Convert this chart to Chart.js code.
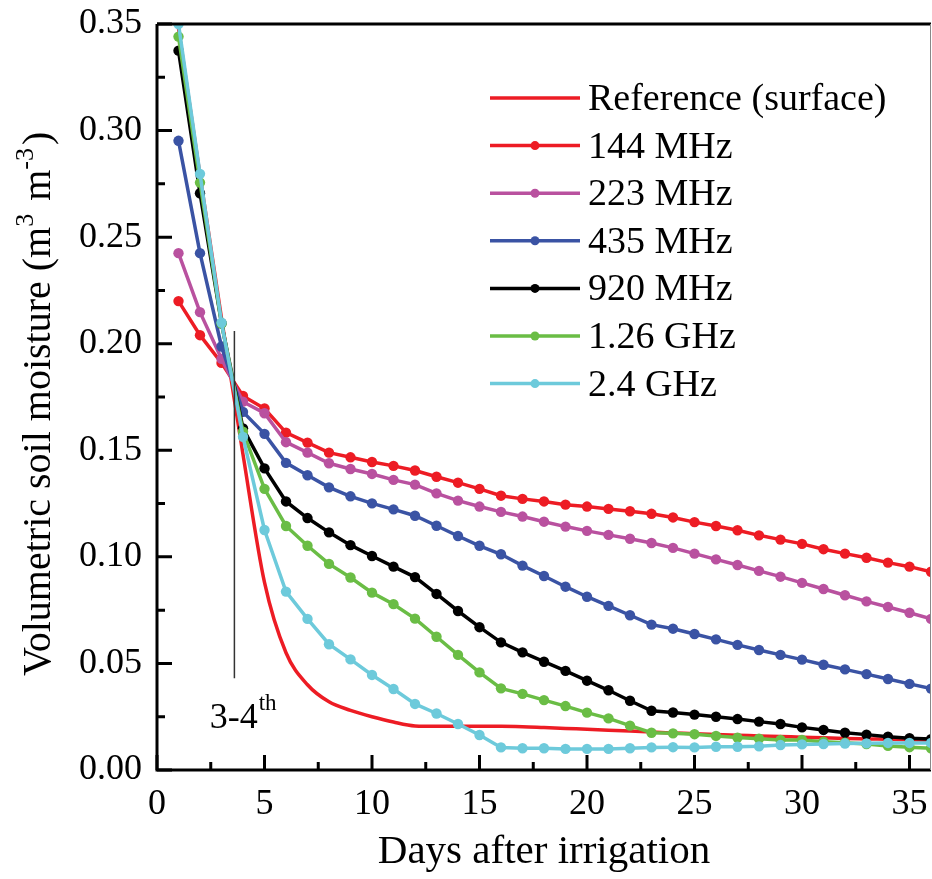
<!DOCTYPE html>
<html>
<head>
<meta charset="utf-8">
<script src="https://cdn.jsdelivr.net/npm/chart.js@4.4.1/dist/chart.umd.min.js"></script>
<style>
  html, body { margin: 0; padding: 0; background: #fff; }
  #wrap { width: 932px; height: 879px; }
</style>
</head>
<body>
<div id="wrap"><canvas id="moistChart" width="932" height="879"></canvas></div>
<script>
// days after irrigation
const days = [1,2,3,4,5,6,7,8,9,10,11,12,13,14,15,16,17,18,19,20,21,22,23,24,25,26,27,28,29,30,31,32,33,34,35,36];

// soil moisture (m3 m-3)
const refSurface = [0.348,0.279,0.212,0.148,0.088,0.055,0.040,0.032,0.028,0.025,0.0225,0.0207,0.0205,0.0205,0.0205,0.0205,0.0203,0.0199,0.0195,0.0191,0.0187,0.0183,0.0178,0.0174,0.0170,0.0166,0.0163,0.0160,0.0157,0.0154,0.0151,0.0148,0.0146,0.0144,0.0142,0.0140];
const mhz144 = [0.220,0.204,0.191,0.1755,0.1696,0.1583,0.1536,0.1489,0.1467,0.1445,0.1427,0.1405,0.1376,0.1348,0.1319,0.1287,0.1272,0.1260,0.1245,0.1236,0.1225,0.1214,0.1202,0.1185,0.1163,0.1145,0.1125,0.1101,0.1081,0.1061,0.1036,0.1015,0.0996,0.0973,0.0954,0.0930];
const mhz223 = [0.2425,0.2148,0.1929,0.1728,0.1674,0.1538,0.1489,0.1439,0.1412,0.1389,0.1361,0.1339,0.1298,0.1264,0.1236,0.1211,0.1189,0.1165,0.1142,0.1122,0.1103,0.1085,0.1065,0.1042,0.1015,0.0988,0.0962,0.0934,0.0907,0.0878,0.0849,0.0820,0.0791,0.0765,0.0738,0.0709];
const mhz435 = [0.2952,0.2425,0.1987,0.1680,0.1577,0.1441,0.1383,0.1326,0.1284,0.1251,0.1223,0.1193,0.1146,0.1098,0.1052,0.1012,0.0959,0.0910,0.0860,0.0813,0.0770,0.0726,0.0682,0.0663,0.0638,0.0613,0.0587,0.0563,0.0540,0.0518,0.0494,0.0472,0.0450,0.0427,0.0404,0.0382];
const mhz920 = [0.3375,0.2706,0.2096,0.1603,0.1415,0.1260,0.1182,0.1115,0.1055,0.1004,0.0954,0.0905,0.0826,0.0746,0.0670,0.0599,0.0552,0.0508,0.0465,0.0419,0.0374,0.0325,0.0278,0.0270,0.0260,0.0250,0.0239,0.0227,0.0216,0.0200,0.0188,0.0175,0.0166,0.0156,0.0149,0.0145];
const ghz126 = [0.3441,0.2756,0.2095,0.1587,0.1319,0.1145,0.1052,0.0967,0.0903,0.0832,0.0778,0.0710,0.0625,0.0540,0.0458,0.0383,0.0357,0.0328,0.0300,0.0269,0.0242,0.0208,0.0175,0.0172,0.0168,0.0160,0.0152,0.0147,0.0141,0.0141,0.0133,0.0128,0.0122,0.0113,0.0107,0.0102];
const ghz24 = [0.350,0.2797,0.2099,0.1563,0.1126,0.0837,0.0709,0.0590,0.0519,0.0446,0.0380,0.0310,0.0265,0.0216,0.0164,0.0106,0.0102,0.0102,0.0099,0.0099,0.0099,0.0102,0.0106,0.0107,0.0106,0.0109,0.0109,0.0111,0.0117,0.0120,0.0122,0.0124,0.0125,0.0127,0.0127,0.0127];

const seriesNames = ['Reference (surface)','144 MHz','223 MHz','435 MHz','920 MHz','1.26 GHz','2.4 GHz'];
const seriesColors = ['#ED1C24','#ED1C24','#B9519F','#3A53A4','#000000','#6ABD45','#6DCADB'];
const seriesValues = [refSurface, mhz144, mhz223, mhz435, mhz920, ghz126, ghz24];

const xTickVals = [0,5,10,15,20,25,30,35];
const yTickVals = [0,0.05,0.10,0.15,0.20,0.25,0.30,0.35];

// 3-4th day marker
const markDay = 3.6;
const markTop = 0.206;
const markBottom = 0.043;

const FONT = "'Liberation Serif', 'Times New Roman', serif";

const datasets = seriesNames.map((name, i) => ({
  label: name,
  data: days.map((d, k) => ({ x: d, y: seriesValues[i][k] })),
  borderColor: seriesColors[i],
  backgroundColor: seriesColors[i],
  borderWidth: 3.5,
  pointRadius: i === 0 ? 0 : 5.2,
  pointBorderWidth: 0,
  pointHoverRadius: i === 0 ? 0 : 5.2,
  cubicInterpolationMode: i === 0 ? 'monotone' : 'default',
  tension: 0,
  order: seriesNames.length - i
}));

// frame, inward ticks, marker line, labels and legend
const decorPlugin = {
  id: 'decor',
  afterDatasetsDraw(chart) {
    const { ctx, chartArea: a, scales: { x, y } } = chart;
    ctx.save();

    // 3-4th vertical line
    const mx = x.getPixelForValue(markDay);
    ctx.strokeStyle = '#333';
    ctx.lineWidth = 1.5;
    ctx.beginPath();
    ctx.moveTo(mx, y.getPixelForValue(markTop));
    ctx.lineTo(mx, y.getPixelForValue(markBottom));
    ctx.stroke();

    // frame
    ctx.strokeStyle = '#000';
    ctx.lineWidth = 3;
    ctx.beginPath();
    ctx.moveTo(a.left, a.top);
    ctx.lineTo(a.left, a.bottom);
    ctx.lineTo(a.right, a.bottom);
    ctx.moveTo(a.left, a.top);
    ctx.lineTo(a.right, a.top);
    ctx.stroke();
    ctx.strokeStyle = '#888';
    ctx.lineWidth = 1;
    ctx.beginPath();
    ctx.moveTo(a.right - 0.5, a.top);
    ctx.lineTo(a.right - 0.5, a.bottom);
    ctx.stroke();

    // inward ticks
    ctx.strokeStyle = '#000';
    ctx.lineWidth = 3;
    ctx.beginPath();
    for (let v = 0; v <= 36; v += 2.5) {
      const px = x.getPixelForValue(v);
      const len = v % 5 === 0 ? 15 : 8;
      ctx.moveTo(px, a.bottom);
      ctx.lineTo(px, a.bottom - len);
    }
    for (let v = 0; v <= 0.35 + 1e-9; v += 0.025) {
      const py = y.getPixelForValue(v);
      const len = Math.round(v * 1000) % 50 === 0 ? 15 : 8;
      ctx.moveTo(a.left, py);
      ctx.lineTo(a.left + len, py);
    }
    ctx.stroke();

    // 3-4th label
    ctx.fillStyle = '#000';
    ctx.textBaseline = 'alphabetic';
    ctx.textAlign = 'left';
    ctx.font = '36px ' + FONT;
    const lx = x.getPixelForValue(2.45);
    const ly = y.getPixelForValue(0.0197);
    ctx.fillText('3-4', lx, ly);
    const w34 = ctx.measureText('3-4').width;
    ctx.font = '23px ' + FONT;
    ctx.fillText('th', lx + w34 + 1, ly - 18);

    ctx.restore();
  },
  afterDraw(chart) {
    const { ctx, chartArea: a } = chart;
    ctx.save();
    ctx.fillStyle = '#000';

    // y axis title with superscripts
    ctx.translate(50, 676);
    ctx.rotate(-Math.PI / 2);
    ctx.textAlign = 'left';
    ctx.textBaseline = 'alphabetic';
    const big = '40px ' + FONT;
    const sup = '26px ' + FONT;
    let cx = 0;
    const parts = [['Volumetric soil moisture (m', big, 0], ['3', sup, -17], [' m', big, 0], ['-3', sup, -17], [')', big, 0]];
    parts.forEach(([t, f, dy]) => {
      ctx.font = f;
      ctx.fillText(t, cx, dy);
      cx += ctx.measureText(t).width + (dy ? 3 : 0);
    });
    ctx.restore();

    // legend inside the plot
    ctx.save();
    const x0 = a.right - 441;
    const x1 = a.right - 351;
    chart.data.datasets.forEach((ds, i) => {
      const ry = 98 + i * 47.6;
      ctx.strokeStyle = ds.borderColor;
      ctx.lineWidth = 3.5;
      ctx.beginPath();
      ctx.moveTo(x0, ry);
      ctx.lineTo(x1, ry);
      ctx.stroke();
      if (ds.pointRadius > 0) {
        ctx.fillStyle = ds.borderColor;
        ctx.beginPath();
        ctx.arc((x0 + x1) / 2, ry, 4.5, 0, Math.PI * 2);
        ctx.fill();
      }
      ctx.fillStyle = '#000';
      ctx.font = '38px ' + FONT;
      ctx.textAlign = 'left';
      ctx.textBaseline = 'middle';
      ctx.fillText(ds.label, x1 + 8, ry + 2);
    });
    ctx.restore();
  }
};

new Chart(document.getElementById('moistChart'), {
  type: 'line',
  data: { datasets },
  options: {
    responsive: false,
    animation: false,
    devicePixelRatio: 1,
    layout: { autoPadding: false, padding: { top: 24, right: 1, left: 0, bottom: 0 } },
    plugins: { legend: { display: false }, tooltip: { enabled: false } },
    scales: {
      x: {
        type: 'linear',
        min: 0,
        max: 36,
        afterBuildTicks: (s) => { s.ticks = xTickVals.map(v => ({ value: v })); },
        afterFit: (s) => { s.height = 109; s.paddingLeft = 0; s.paddingRight = 0; },
        grid: { display: false, drawTicks: false },
        border: { display: false },
        ticks: { color: '#000', font: { family: FONT, size: 36 }, padding: 13, maxRotation: 0 },
        title: { display: true, text: 'Days after irrigation', color: '#000', font: { family: FONT, size: 41 }, padding: { top: 0, bottom: 2 } }
      },
      y: {
        min: 0,
        max: 0.35,
        afterBuildTicks: (s) => { s.ticks = yTickVals.map(v => ({ value: v })); },
        afterFit: (s) => { s.width = 157; s.paddingTop = 0; s.paddingBottom = 0; },
        grid: { display: false, drawTicks: false },
        border: { display: false },
        ticks: { color: '#000', font: { family: FONT, size: 36 }, padding: 15, callback: (v) => v.toFixed(2) }
      }
    }
  },
  plugins: [decorPlugin]
});
</script>
</body>
</html>
